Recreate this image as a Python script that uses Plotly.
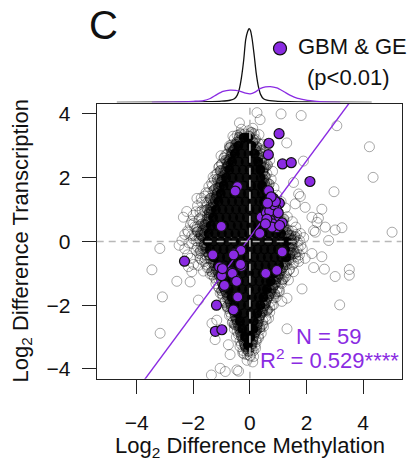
import plotly.graph_objects as go

W, H = 414, 462
FONT = "Liberation Sans, Arial, sans-serif"
PURPLE = "#8A2BE2"

# ---------------- data ----------------
# significant genes (GBM & GE, p<0.01): log2 diff methylation (x), log2 diff transcription (y)
SIG_X = [1.03, 0.67, 0.65, 1.15, 1.46, 2.12, 0.66, 0.83, 1.04, 0.72, 0.66, 0.93, 0.52, 0.40,
         0.89, 0.72, 1.14, 0.68, 0.95, 0.35, 0.58, 0.80, 0.70, 0.85, 0.60, 0.78, 1.00, 0.55,
         0.90, 0.75, 0.62, 1.05,
         -0.44, -0.52, -1.01,
         -2.31, -1.31, -0.54, -0.32, -1.07, -0.66, -0.30, -1.00, -0.49, -0.93, -0.43, -1.18,
         -0.58, -1.22, -0.99, -0.58, -0.97, -0.62, -0.47, -0.90, -0.33,
         0.56, 0.95, 1.14]
SIG_Y = [3.38, 3.08, 2.72, 2.43, 2.47, 1.88, 1.59, 1.35, 1.20, 1.15, 0.99, 1.02, 0.81, 0.76,
         0.76, 0.66, 0.58, 0.50, 0.43, 0.25, 0.90, 0.55, 0.95, 1.15, 0.70, 0.45, 0.90, 0.55,
         1.25, 1.40, 1.20, 0.50,
         1.72, 1.58, 0.47,
         -0.62, -0.42, -0.38, -0.28, -0.80, -0.96, -0.78, -1.07, -1.20, -1.42, -1.74, -2.00,
         -2.15, -2.82, -2.77, -0.42, -0.85, -1.00, -1.25, -1.38, -0.72,
         -1.00, -0.91, -0.33]

# fitted regression
FIT_SLOPE = 1.20
FIT_INTERCEPT = 0.13

# all genes: scattered outliers (x, y)
HALO = [(-0.37, 3.72), (0.25, 4.04), (1.10, 4.00), (1.81, 3.95), (0.36, 3.82), (3.07, 3.63),
        (4.22, 2.97), (4.35, 2.01), (2.97, 1.56), (1.30, 3.09), (2.54, 1.01), (3.25, 0.43),
        (5.02, 0.29), (3.01, 0.36), (1.89, 2.52), (1.78, 1.41), (2.42, 0.73), (2.25, 0.34),
        (2.78, 0.03), (2.19, 0.76), (2.37, 0.60), (2.66, 0.45), (2.31, 0.29), (1.54, 1.85),
        (1.72, 1.49), (1.95, 1.07), (1.60, 1.18),
        (-0.19, 3.37), (-0.40, 3.10), (-0.64, 2.84), (-1.02, 2.69), (-0.79, 2.74), (-0.99, 2.43),
        (-1.26, 1.94), (-1.02, 2.22), (-1.87, 1.35), (-1.72, 1.36), (-1.40, 1.05), (-2.35, 0.76),
        (-2.23, 0.94), (-1.99, 0.57), (-1.76, 0.92), (-2.17, 0.29), (-1.11, 1.70), (-1.17, 1.38),
        (-1.46, 0.40), (-1.23, 0.50),
        (-3.18, -0.22), (-3.46, -0.89), (-2.58, -1.25), (-3.09, -1.74), (-3.17, -2.88),
        (-2.05, -0.95), (-1.82, -0.75), (-1.64, -0.93), (-2.11, -1.27), (-1.82, -1.84),
        (-1.34, -2.57), (-1.05, -3.98), (-0.87, -4.08), (-1.36, -4.19), (-1.17, -2.47),
        (-2.17, -0.79), (-1.99, -0.72), (-1.58, -0.53), (-1.76, -0.53), (-1.23, -3.08),
        (-0.76, -3.24), (-0.40, -4.07), (-0.70, -3.55), (-0.10, -3.55), (-0.17, -3.24),
        (-0.46, -4.03), (0.13, -3.61),
        (1.84, -1.49), (1.31, -1.78), (1.13, -1.88), (1.31, -2.74), (2.25, -0.82), (2.63, -0.87),
        (3.01, -1.10), (3.17, -1.99), (2.54, -0.48), (2.19, -0.38), (1.66, -0.32), (1.72, -0.63),
        (1.95, -0.53), (1.54, -0.95), (1.36, -1.21), (1.01, -1.57), (0.83, -1.99), (0.66, -2.41),
        (0.48, -2.67), (0.30, -3.03), (0.07, -3.40), (3.51, -0.88), (3.51, -1.06)]

# all genes: fringe of overlapping genes around the saturated core (x, y)
FRINGE = [(-0.30, 3.52), (-0.05, 3.47), (0.10, 3.55), (-0.45, 3.33), (0.15, 3.38),
          (-0.55, 3.22), (-0.35, 3.17), (0.20, 3.21), (-0.65, 3.03), (0.30, 3.08),
          (-0.72, 2.93), (-0.55, 2.88), (0.35, 2.91), (-0.85, 2.72), (-0.65, 2.78), (0.40, 2.74),
          (-0.92, 2.62), (-0.75, 2.57), (0.45, 2.63), (-1.00, 2.43), (-0.80, 2.48), (0.50, 2.44),
          (-1.10, 2.32), (-0.90, 2.27), (0.55, 2.33), (-1.15, 2.13), (-0.95, 2.18), (0.45, 2.16),
          (0.60, 2.12), (-1.30, 2.02), (-1.05, 1.97), (0.55, 2.03), (-1.35, 1.83), (-1.10, 1.88),
          (0.60, 1.84), (-1.45, 1.72), (-1.20, 1.67), (0.58, 1.71), (-1.55, 1.53), (-1.30, 1.58),
          (-1.15, 1.52), (0.62, 1.56), (-1.60, 1.42), (-1.35, 1.37), (0.65, 1.41), (-1.70, 1.23),
          (-1.45, 1.28), (-1.30, 1.22), (0.72, 1.26), (-1.85, 1.12), (-1.55, 1.07), (-1.35, 1.13),
          (0.80, 1.09), (-1.90, 0.93), (-1.60, 0.97), (-1.42, 0.92), (-2.00, 0.82), (-1.70, 0.77),
          (-1.50, 0.83), (1.00, 0.79), (-2.05, 0.63), (-1.80, 0.68), (-1.55, 0.62), (1.10, 0.66),
          (-2.10, 0.52), (-1.85, 0.47), (-1.60, 0.53), (1.00, 0.48), (1.20, 0.52), (-2.20, 0.33),
          (-1.90, 0.38), (-1.70, 0.32), (1.35, 0.36), (1.50, 0.33), (-2.30, 0.22), (-1.95, 0.17),
          (-1.75, 0.23), (1.45, 0.18), (1.65, 0.22), (-2.40, 0.03), (-2.00, 0.08), (-1.75, 0.02),
          (1.55, 0.07), (1.75, 0.03), (-2.50, -0.12), (-2.05, -0.07), (-1.70, -0.13), (1.50, -0.08),
          (1.80, -0.12), (-2.30, -0.23), (-1.90, -0.28), (-1.65, -0.22), (1.55, -0.27), (1.85, -0.23),
          (-2.20, -0.42), (-1.80, -0.37), (-1.55, -0.43), (1.50, -0.38), (1.75, -0.42),
          (-2.10, -0.53), (-1.70, -0.58), (-1.50, -0.52), (1.45, -0.57), (1.70, -0.53),
          (-1.55, -0.72), (-1.35, -0.67), (1.30, -0.73), (1.55, -0.68), (-1.50, -0.83),
          (-1.25, -0.88), (1.15, -0.82), (1.40, -0.87), (-1.40, -1.02), (-1.20, -0.97),
          (1.05, -1.03), (1.30, -0.98), (-1.25, -1.13), (-1.10, -1.18), (1.00, -1.12),
          (1.20, -1.17), (-1.20, -1.32), (-1.00, -1.27), (0.90, -1.33), (1.10, -1.28),
          (-1.10, -1.43), (-0.90, -1.48), (0.80, -1.42), (1.00, -1.47), (-1.05, -1.62),
          (-0.85, -1.57), (0.75, -1.63), (0.95, -1.58), (-0.95, -1.73), (-0.80, -1.78),
          (0.65, -1.72), (0.85, -1.77), (-0.90, -1.92), (-0.70, -1.87), (0.55, -1.93),
          (0.75, -1.88), (-0.80, -2.03), (-0.65, -2.08), (0.50, -2.02), (0.70, -2.07),
          (-0.70, -2.22), (-0.55, -2.17), (0.45, -2.23), (0.60, -2.18), (-0.65, -2.33),
          (-0.50, -2.38), (0.35, -2.32), (0.55, -2.37), (-0.60, -2.52), (-0.45, -2.47),
          (0.30, -2.53), (0.45, -2.48), (-0.50, -2.63), (-0.35, -2.68), (0.25, -2.62),
          (0.40, -2.67), (-0.45, -2.82), (-0.30, -2.77), (0.20, -2.83), (0.35, -2.78),
          (-0.40, -2.93), (-0.25, -2.98), (0.15, -2.92), (0.30, -2.97), (-0.35, -3.12),
          (-0.15, -3.07), (0.10, -3.13), (0.22, -3.08), (-0.30, -3.23), (-0.15, -3.28),
          (0.05, -3.22), (0.18, -3.27), (-0.25, -3.42), (-0.05, -3.37), (0.12, -3.43),
          (-0.20, -3.53), (0.00, -3.58), (-0.10, -3.73), (0.10, -3.78),
          (-0.60, 3.30), (-0.72, 3.00), (-0.90, 2.62), (-1.08, 2.35), (-1.20, 2.10), (-1.32, 1.75),
          (-1.48, 1.52), (-1.52, 1.20), (-1.68, 0.98), (-1.78, 0.72), (-1.95, 0.45), (-2.05, 0.18),
          (-1.90, 0.02), (-2.15, -0.05),
          (0.32, 3.35), (0.45, 3.05), (0.58, 2.82), (0.70, 2.55), (0.80, 2.20), (0.75, 1.95),
          (0.85, 1.68), (0.95, 1.45), (1.10, 1.25), (1.25, 1.05), (1.32, 0.78), (1.50, 0.62),
          (1.62, 0.45), (1.78, 0.25), (1.90, 0.12), (1.68, -0.02),
          (1.70, -0.20), (1.62, -0.48), (1.50, -0.72), (1.38, -0.90), (1.26, -1.10), (1.12, -1.32),
          (1.05, -1.55), (0.92, -1.75), (0.78, -2.00), (0.70, -2.22), (0.58, -2.45), (0.45, -2.60),
          (0.40, -2.88), (0.22, -3.15), (0.20, -3.35), (0.02, -3.60),
          (-1.85, -0.18), (-1.72, -0.40), (-1.60, -0.62), (-1.45, -0.82), (-1.32, -1.05),
          (-1.18, -1.22), (-1.10, -1.45), (-0.98, -1.65), (-0.88, -1.88), (-0.78, -2.10),
          (-0.72, -2.32), (-0.62, -2.55), (-0.55, -2.75), (-0.48, -3.00), (-0.35, -3.30),
          (-0.25, -3.50)]

# all genes: genes crowding the edge of the saturated core (x, y)
EDGE = [(-0.33, 3.38), (-0.46, 3.12), (-0.52, 2.93), (-0.61, 2.81), (-0.70, 2.58), (-0.76, 2.41),
        (-0.83, 2.29), (-0.92, 2.07), (-0.98, 1.91), (-1.04, 1.78), (-1.12, 1.56), (-1.18, 1.41),
        (-1.22, 1.27), (-1.31, 1.09), (-1.36, 0.93), (-1.43, 0.76), (-1.48, 0.61), (-1.55, 0.43),
        (-1.60, 0.27), (-1.64, 0.12), (-1.63, -0.04),
        (0.05, 3.42), (0.16, 3.18), (0.24, 2.97), (0.33, 2.70), (0.42, 2.52), (0.50, 2.30),
        (0.53, 2.05), (0.52, 1.82), (0.57, 1.60), (0.60, 1.38), (0.68, 1.15), (0.77, 0.95),
        (0.90, 0.80), (1.02, 0.62), (1.18, 0.42), (1.30, 0.28), (1.44, 0.10), (1.45, -0.06),
        (1.42, -0.22), (1.40, -0.43), (1.28, -0.64), (1.16, -0.82), (1.02, -1.02), (0.92, -1.18),
        (0.86, -1.37), (0.74, -1.55), (0.66, -1.72), (0.55, -1.93), (0.46, -2.12), (0.36, -2.33),
        (0.27, -2.55), (0.24, -2.77), (0.14, -2.98), (0.08, -3.22),
        (-1.55, -0.20), (-1.44, -0.42), (-1.30, -0.66), (-1.18, -0.88), (-1.08, -1.08),
        (-0.98, -1.30), (-0.87, -1.52), (-0.79, -1.70), (-0.70, -1.92), (-0.60, -2.12),
        (-0.52, -2.35), (-0.44, -2.56), (-0.36, -2.78), (-0.30, -2.98), (-0.20, -3.20),
        (-0.12, -3.38),
        (-0.38, 3.27), (-0.50, 3.05), (-0.58, 2.86), (-0.66, 2.69), (-0.74, 2.52), (-0.80, 2.35),
        (-0.88, 2.18), (-0.97, 2.02), (-1.02, 1.86), (-1.09, 1.69), (-1.16, 1.50), (-1.24, 1.33),
        (-1.30, 1.18), (-1.38, 1.02), (-1.44, 0.86), (-1.51, 0.69), (-1.58, 0.52), (-1.66, 0.36),
        (-1.72, 0.19), (-1.80, 0.08), (-1.26, 1.62), (-1.05, 2.22), (-0.70, 2.95), (-1.50, 1.00),
        (-1.70, 0.55), (-0.85, 2.55), (-1.15, 1.95), (-1.40, 1.35), (-1.85, 0.30),
        (-0.02, 3.30), (0.10, 3.12), (0.20, 2.88), (0.28, 2.62), (0.38, 2.40), (0.46, 2.20),
        (0.48, 1.95), (0.50, 1.70), (0.52, 1.48), (0.62, 1.28), (0.70, 1.05), (0.85, 0.88),
        (0.98, 0.72), (1.10, 0.55), (1.25, 0.38), (1.38, 0.20), (1.48, 0.04), (0.40, 2.85),
        (0.62, 2.40), (0.68, 1.80), (1.20, 0.70), (1.60, 0.15),
        (1.48, -0.15), (1.46, -0.35), (1.38, -0.55), (1.24, -0.74), (1.10, -0.92), (0.98, -1.10),
        (0.90, -1.28), (0.80, -1.46), (0.70, -1.64), (0.60, -1.82), (0.52, -2.02), (0.42, -2.22),
        (0.32, -2.43), (0.25, -2.64), (0.18, -2.86), (0.10, -3.08), (0.04, -3.30), (1.60, -0.38),
        (1.15, -1.20), (0.88, -1.65), (0.62, -2.15), (0.35, -2.70),
        (-1.62, -0.10), (-1.52, -0.32), (-1.40, -0.55), (-1.25, -0.77), (-1.12, -0.98),
        (-1.02, -1.18), (-0.92, -1.40), (-0.84, -1.60), (-0.75, -1.80), (-0.66, -2.00),
        (-0.56, -2.22), (-0.48, -2.44), (-0.40, -2.66), (-0.33, -2.88), (-0.25, -3.08),
        (-0.16, -3.30), (-0.05, -3.45), (-1.75, -0.30), (-1.35, -0.95), (-1.00, -1.55),
        (-0.80, -2.05), (-0.55, -2.60)]

# all genes: saturated core (thousands of overlapping genes), rows of (y, [x...])
CORE_ROWS = [
    (3.25, [-0.22, -0.06]),
    (3.00, [-0.41, -0.18, 0.06]),
    (2.75, [-0.53, -0.30, -0.05, 0.17]),
    (2.50, [-0.63, -0.39, -0.15, 0.09, 0.29]),
    (2.25, [-0.73, -0.50, -0.25, -0.01, 0.22, 0.37]),
    (2.00, [-0.84, -0.61, -0.37, -0.12, 0.12, 0.38]),
    (1.75, [-0.93, -0.69, -0.45, -0.20, 0.04, 0.27, 0.43]),
    (1.50, [-1.03, -0.79, -0.55, -0.31, -0.07, 0.17, 0.42]),
    (1.25, [-1.11, -0.87, -0.63, -0.39, -0.15, 0.09, 0.33, 0.50]),
    (1.00, [-1.20, -0.97, -0.73, -0.49, -0.25, -0.01, 0.23, 0.47, 0.60]),
    (0.75, [-1.30, -1.07, -0.83, -0.59, -0.35, -0.11, 0.13, 0.37, 0.60, 0.75]),
    (0.50, [-1.38, -1.15, -0.91, -0.67, -0.43, -0.19, 0.05, 0.29, 0.53, 0.77, 0.90]),
    (0.25, [-1.46, -1.23, -0.99, -0.75, -0.51, -0.27, -0.03, 0.21, 0.45, 0.69, 0.93, 1.10]),
    (0.00, [-1.50, -1.27, -1.03, -0.79, -0.55, -0.31, -0.07, 0.17, 0.41, 0.65, 0.89, 1.13, 1.30]),
    (-0.25, [-1.41, -1.17, -0.93, -0.69, -0.45, -0.21, 0.03, 0.27, 0.51, 0.75, 0.99, 1.24]),
    (-0.50, [-1.28, -1.05, -0.81, -0.57, -0.33, -0.09, 0.15, 0.39, 0.63, 0.87, 1.11, 1.28]),
    (-0.75, [-1.13, -0.89, -0.65, -0.41, -0.17, 0.07, 0.31, 0.55, 0.79, 1.03]),
    (-1.00, [-0.99, -0.75, -0.51, -0.27, -0.03, 0.21, 0.45, 0.69, 0.86]),
    (-1.25, [-0.87, -0.63, -0.39, -0.15, 0.09, 0.33, 0.57, 0.74]),
    (-1.50, [-0.75, -0.51, -0.27, -0.03, 0.21, 0.45, 0.60]),
    (-1.75, [-0.65, -0.41, -0.17, 0.07, 0.31, 0.48]),
    (-2.00, [-0.55, -0.31, -0.07, 0.17, 0.37]),
    (-2.25, [-0.45, -0.21, 0.03, 0.26]),
    (-2.50, [-0.35, -0.11, 0.13]),
    (-2.75, [-0.27, -0.03, 0.12]),
    (-3.00, [-0.17, 0.02]),
    (-3.25, [-0.07]),
]

# marginal density of methylation difference
ALL_DENS_X = [-4.7, -3.0, -2.0, -1.5, -1.0, -0.7, -0.55, -0.45, -0.38, -0.30, -0.22, -0.15,
              -0.08, -0.03, 0.02, 0.08, 0.15, 0.22, 0.30, 0.38, 0.48, 0.60, 0.90, 1.4, 2.0, 3.0, 4.3]
ALL_DENS_Y = [0.0, 0.004, 0.01, 0.018, 0.035, 0.06, 0.10, 0.20, 0.36, 0.70, 1.20, 1.78,
              2.02, 2.10, 2.05, 1.80, 1.35, 0.85, 0.45, 0.22, 0.10, 0.06, 0.035, 0.018, 0.01, 0.004, 0.0]
SIG_DENS_X = [-3.46, -3.0, -2.5, -2.0, -1.64, -1.4, -1.17, -0.95, -0.70, -0.50, -0.34, -0.15,
              0.01, 0.18, 0.36, 0.55, 0.72, 0.95, 1.19, 1.45, 1.66, 1.90, 2.13, 2.6, 3.19]
SIG_DENS_Y = [0.0, 0.003, 0.01, 0.03, 0.05, 0.11, 0.22, 0.31, 0.35, 0.34, 0.31, 0.26,
              0.24, 0.29, 0.39, 0.44, 0.45, 0.41, 0.31, 0.19, 0.12, 0.08, 0.05, 0.015, 0.0]

TICKS = [-4, -2, 0, 2, 4]
X_RANGE = [-5.41, 5.36]
Y_RANGE = [-4.31, 4.31]
N_LABEL = "N = 59"
R2_LABEL = "R<sup>2</sup> = 0.529****"

# ---------------- build ----------------
ring_x = [p[0] for p in FRINGE + HALO]
ring_y = [p[1] for p in FRINGE + HALO]
edge_x = [p[0] for p in EDGE]
edge_y = [p[1] for p in EDGE]
core_x = [x for y, xs in CORE_ROWS for x in xs]
core_y = [y for y, xs in CORE_ROWS for x in xs]


def fx(px):
    """window pixel -> paper fraction"""
    return px / W


def fy(py):
    return 1 - py / H


BOX_L, BOX_R, BOX_T, BOX_B = 96.7, 401.7, 102.7, 379.3
DENS_BASE, DENS_TOP = 101.0, 16.3

fig = go.Figure()

fig.add_trace(go.Scatter(x=core_x, y=core_y, mode="markers", hoverinfo="skip",
                         marker=dict(symbol="circle", size=10, color="rgba(0,0,0,0.95)",
                                     line=dict(width=0))))
fig.add_trace(go.Scatter(x=edge_x, y=edge_y, mode="markers", hoverinfo="skip",
                         marker=dict(symbol="circle", size=10, color="rgba(0,0,0,0.22)",
                                     line=dict(color="rgba(0,0,0,0.45)", width=1))))
fig.add_trace(go.Scatter(x=ring_x, y=ring_y, mode="markers",
                         marker=dict(symbol="circle-open", size=10, color="rgba(0,0,0,0.34)",
                                     line=dict(width=1))))

line_x = [X_RANGE[0], X_RANGE[1]]
line_y = [FIT_INTERCEPT + FIT_SLOPE * v for v in line_x]
fig.add_trace(go.Scatter(x=line_x, y=line_y, mode="lines",
                         line=dict(color=PURPLE, width=1.4)))

fig.add_trace(go.Scatter(x=SIG_X, y=SIG_Y, mode="markers", name="GBM & GE (p<0.01)",
                         marker=dict(symbol="circle", size=10, color=PURPLE,
                                     line=dict(color="#111", width=1.2))))

# top marginal densities
fig.add_trace(go.Scatter(x=ALL_DENS_X, y=ALL_DENS_Y, mode="lines", xaxis="x2", yaxis="y2",
                         line=dict(color="#111", width=1.3, shape="spline", smoothing=0.6)))
fig.add_trace(go.Scatter(x=SIG_DENS_X, y=SIG_DENS_Y, mode="lines", xaxis="x2", yaxis="y2",
                         line=dict(color=PURPLE, width=1.3, shape="spline", smoothing=0.6)))

# reference lines at zero
for kw in (dict(x0=0, x1=0, y0=Y_RANGE[0], y1=Y_RANGE[1]),
           dict(x0=X_RANGE[0], x1=X_RANGE[1], y0=0, y1=0)):
    fig.add_shape(type="line", xref="x", yref="y", layer="above",
                  line=dict(color="#b8b8b8", width=1.6, dash="7px,5px"), **kw)

axis_common = dict(showgrid=False, zeroline=False, showline=True, mirror=True,
                   linecolor="#222", linewidth=1.3, ticks="outside", ticklen=14,
                   tickwidth=1.2, tickcolor="#222", tickvals=TICKS,
                   tickfont=dict(family=FONT, size=21, color="#111"))

fig.update_layout(
    width=W, height=H, margin=dict(l=0, r=0, t=0, b=0),
    paper_bgcolor="white", plot_bgcolor="white", showlegend=False,
    font=dict(family=FONT, color="#111"),
    xaxis=dict(domain=[fx(BOX_L), fx(BOX_R)], range=X_RANGE, ticklabelstandoff=11,
               **axis_common),
    yaxis=dict(domain=[fy(BOX_B), fy(BOX_T)], range=Y_RANGE, ticklabelstandoff=7,
               **axis_common),
    xaxis2=dict(domain=[fx(BOX_L), fx(BOX_R)], range=X_RANGE, anchor="y2", visible=False),
    yaxis2=dict(domain=[fy(DENS_BASE), fy(DENS_TOP)], range=[0, 2.4], anchor="x2",
                visible=False),
)

ann = [
    dict(text="C", x=fx(103), y=fy(23), font=dict(size=40)),
    dict(text="GBM & GE", x=fx(296), y=fy(45), xanchor="left", font=dict(size=22)),
    dict(text="(p<0.01)", x=fx(348), y=fy(76), font=dict(size=22)),
    dict(text=N_LABEL, x=fx(328), y=fy(337), font=dict(size=22, color=PURPLE)),
    dict(text=R2_LABEL, x=fx(329), y=fy(359), font=dict(size=22, color=PURPLE)),
    dict(text="Log<sub>2</sub> Difference Methylation", x=fx(250), y=fy(448),
         font=dict(size=22)),
    dict(text="Log<sub>2</sub> Difference Transcription", x=fx(22), y=fy(241),
         textangle=-90, font=dict(size=22)),
]
for a in ann:
    fig.add_annotation(xref="paper", yref="paper", showarrow=False,
                       xanchor=a.pop("xanchor", "center"), yanchor="middle", **a)

fig.add_shape(type="circle", xref="paper", yref="paper", layer="above",
              x0=fx(273.5), x1=fx(286.5), y0=fy(53.2), y1=fy(40.2),
              fillcolor=PURPLE, line=dict(color="#111", width=1.2))

# the page body's default 8px margin would push the fixed-size figure off the window
fig.write_html("out.html", config={"displayModeBar": False},
               post_script="document.body.style.margin='0px';")
